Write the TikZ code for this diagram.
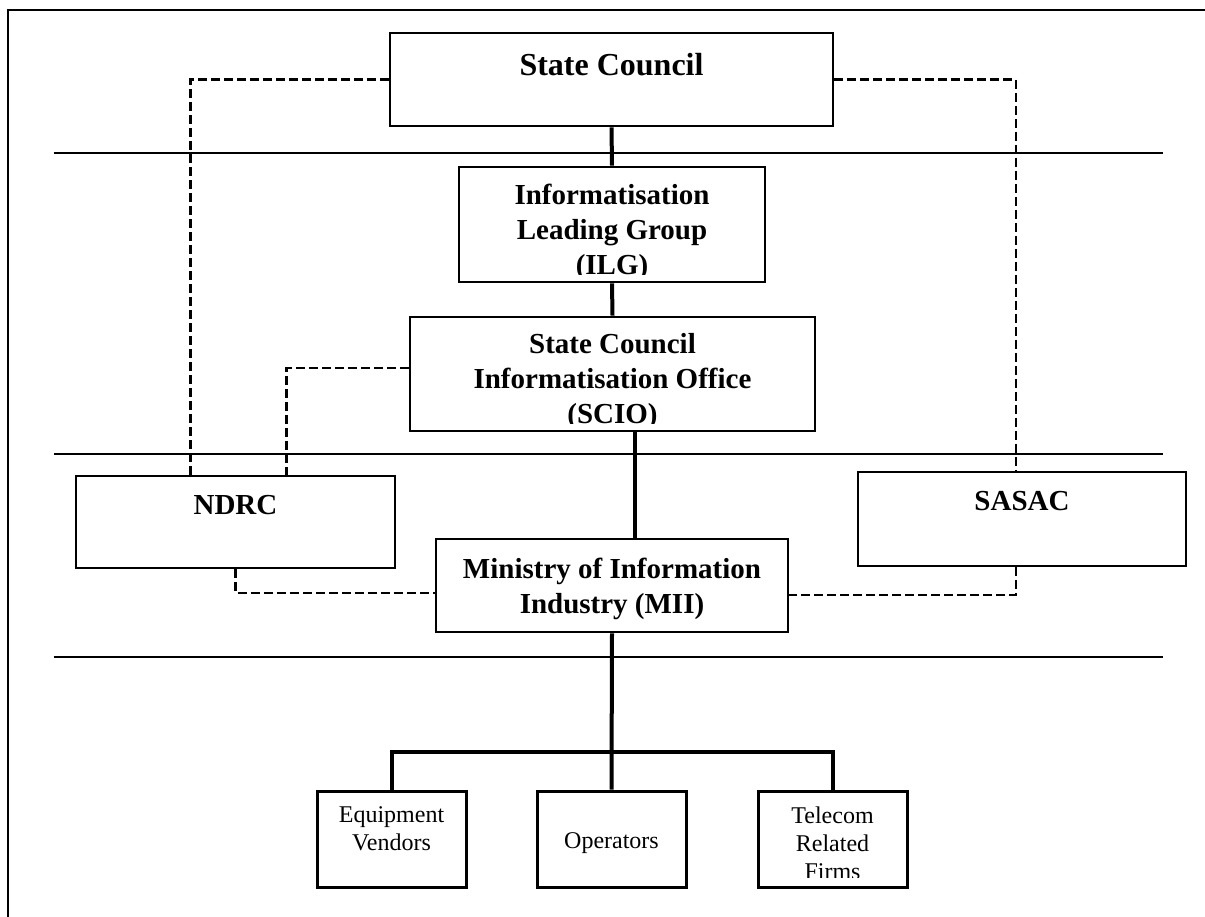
\documentclass[tikz,border=0pt]{standalone}
\usepackage{fontspec}
\setmainfont{Liberation Serif}
\usetikzlibrary{positioning}

\tikzset{
  unit/.style={draw, line width=2.7pt},
  firm/.style={draw, line width=3pt, minimum width=149pt, minimum height=96pt},
  big/.style={font=\fontsize{29}{35}\selectfont\bfseries, align=center, inner sep=0pt},
  small/.style={font=\fontsize{24}{28}\selectfont, align=center, inner sep=0pt},
  link/.style={line width=4pt},
  tie/.style={line width=2.2pt, dash pattern=on 9pt off 4pt},
  band/.style={line width=1.6pt}
}

\begin{document}
\begin{tikzpicture}[x=1pt,y=-1pt]
\useasboundingbox (0,0) rectangle (1205,916);
%%%FRAME AND LEVELS
\draw[line width=2.5pt] (8,920) -- (8,10) -- (1210,10);
\draw[band] (54,153) -- (1163,153);
\draw[band] (54,454) -- (1163,454);
\draw[band] (54,657) -- (1163,657);

%%%UNITS
\node[unit, minimum width=443pt, minimum height=93pt] (sc) at (611.5,79.5) {};
\node[unit, minimum width=306pt, minimum height=115pt] (ilg) at (612,224.5) {};
\node[unit, minimum width=405pt, minimum height=114pt] (scio) at (612.5,374) {};
\node[unit, minimum width=319pt, minimum height=92pt] (ndrc) at (235.5,522) {};
\node[unit, minimum width=328pt, minimum height=94pt] (sasac) at (1022,519) {};
\node[unit, minimum width=352pt, minimum height=93pt] (mii) at (612,585.5) {};
\node[firm] (ev) at (391.5,839) {};
\node[firm] (ops) at (611.5,839) {};
\node[firm] (trf) at (832.5,839) {};

%%%LABELS
\node[big, font=\fontsize{32}{38}\selectfont\bfseries] (sctext) [below=21pt of sc.north] {State Council};
\begin{scope}
\clip (ilg.north west) rectangle ([yshift=9pt]ilg.south east);
\node[big] (ilgtext) [below=18pt of ilg.north] {Informatisation\\Leading Group\\(ILG)};
\end{scope}
\begin{scope}
\clip (scio.north west) rectangle ([yshift=9pt]scio.south east);
\node[big] (sciotext) [below=18pt of scio.north] {State Council\\Informatisation Office\\(SCIO)};
\end{scope}
\node[big] (ndrctext) [below=20pt of ndrc.north] {NDRC};
\node[big] (sasactext) [below=20pt of sasac.north] {SASAC};
\node[big] (miitext) [below=20pt of mii.north] {Ministry of Information\\Industry (MII)};
\node[small] (evtext) [below=17pt of ev.north] {Equipment\\Vendors};
\node[small] (opstext) at ([yshift=-4pt]ops.center) {Operators};
\begin{scope}
\clip (trf.north west) rectangle ([yshift=11pt]trf.south east);
\node[small] (trftext) [below=17pt of trf.north] {Telecom\\Related\\Firms};
\end{scope}

%%%HIERARCHY
\coordinate (bus) at (611.5,752);
\draw[link] (sc.south) -- (ilg.north);
\draw[link] (ilg.south) -- (scio.north);
\draw[link] ([xshift=22pt]scio.south) -- ([xshift=22pt]scio.south |- mii.north);
\draw[link] (mii.south) -- (ops.north);
\draw[link] (ev.north) |- (bus) -| (trf.north);

%%%COORDINATION
\draw[tie] (sc.west) -| ([xshift=-45pt]ndrc.north);
\draw[tie] ([yshift=6pt]scio.west) -| ([xshift=51pt]ndrc.north);
\draw[tie] (ndrc.south) |- ([yshift=-7.5pt]mii.west);
\draw[tie] (sc.east) -| ([xshift=-6pt]sasac.north);
\draw[tie] ([xshift=-6pt]sasac.south) |- ([yshift=-9.5pt]mii.east);
\end{tikzpicture}
\end{document}
